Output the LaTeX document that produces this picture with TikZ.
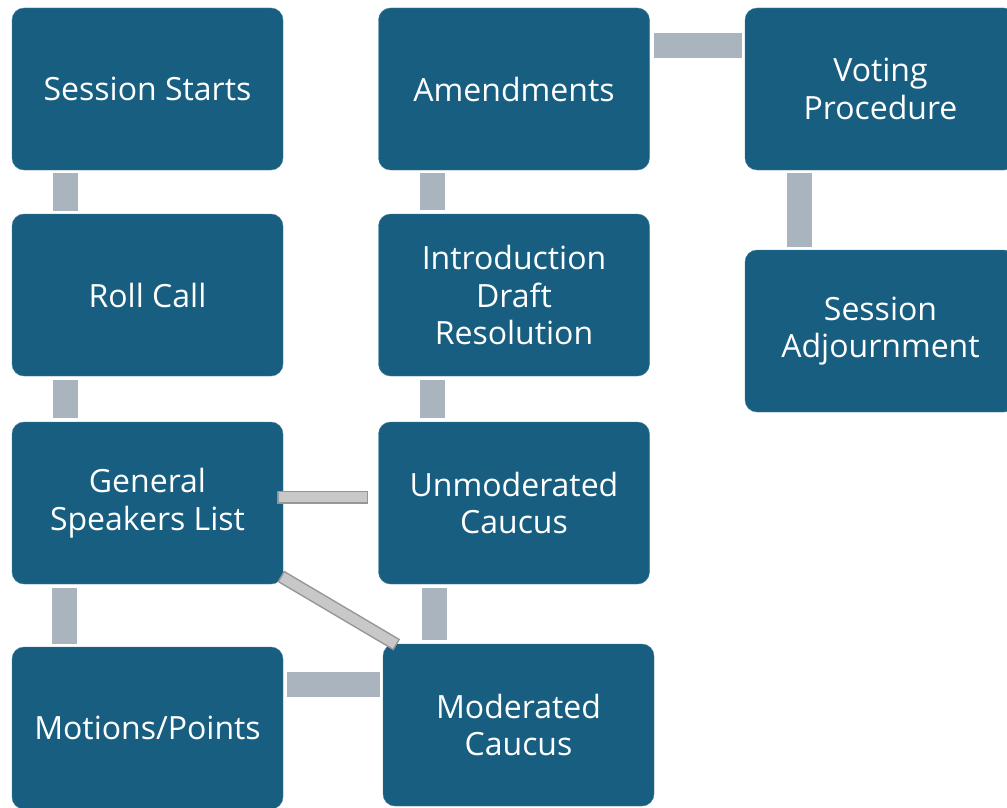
\documentclass[tikz,border=0pt]{standalone}
\usepackage{fontspec}
\setmainfont{Open Sans}
\definecolor{boxblue}{RGB}{23,94,128}
\definecolor{bargray}{RGB}{170,180,190}
\definecolor{linkfill}{RGB}{200,200,200}
\definecolor{linkedge}{RGB}{150,150,150}
\tikzset{
  stage/.style={draw=boxblue!80!white, fill=boxblue, rounded corners=12pt,
    minimum width=271pt, minimum height=162pt, text=white, align=center,
    font=\fontsize{32}{37.5}\selectfont, inner sep=0pt},
  bar/.style={draw=bargray, line width=25pt},
  linkbar/.style={draw=linkedge, line width=13pt}
}
\begin{document}
\begin{tikzpicture}[x=1pt,y=-1pt]
\useasboundingbox (0,0) rectangle (1007,808);
\clip (0,0) rectangle (1007,808);
% boxes
\node[stage] (ss) at (147.5,89) {Session Starts};
\node[stage] (rc) at (147.5,295) {Roll Call};
\node[stage] (gsl) at (147.5,503) {General\\Speakers List};
\node[stage] (mp) at (147.5,728) {Motions/Points};
\node[stage] (am) at (514,89) {Amendments};
\node[stage] (idr) at (514,295) {Introduction\\Draft\\Resolution};
\node[stage] (uc) at (514,503) {Unmoderated\\Caucus};
\node[stage] (mc) at (518.5,725) {Moderated\\Caucus};
\node[stage] (vp) at (880.5,89) {Voting\\Procedure};
\node[stage] (sa) at (880.5,331) {Session\\Adjournment};
% gray bars
\draw[bar] ([xshift=-82pt,yshift=-3pt]ss.south) -- ([xshift=-82pt,yshift=3pt]rc.north);
\draw[bar] ([xshift=-82pt,yshift=-4pt]rc.south) -- ([xshift=-82pt,yshift=4pt]gsl.north);
\draw[bar] ([xshift=-83pt,yshift=-4pt]gsl.south) -- ([xshift=-83pt,yshift=3pt]mp.north);
\draw[bar] ([xshift=4pt,yshift=44pt]mp.east) -- ([xshift=-3pt,yshift=41pt]mc.west);
\draw[bar] ([xshift=-79.5pt,yshift=-4pt]uc.south) -- ([xshift=-84pt,yshift=4pt]mc.north);
\draw[bar] ([xshift=-82pt,yshift=4pt]uc.north) -- ([xshift=-82pt,yshift=-4pt]idr.south);
\draw[bar] ([xshift=-82pt,yshift=4pt]idr.north) -- ([xshift=-82pt,yshift=-3pt]am.south);
\draw[bar] ([xshift=4pt,yshift=43pt]am.east) -- ([xshift=-3pt,yshift=43pt]vp.west);
\draw[bar] ([xshift=-81.5pt,yshift=-3pt]vp.south) -- ([xshift=-81.5pt,yshift=3pt]sa.north);
% light links
\draw[linkbar] ([xshift=-6pt,yshift=6pt]gsl.east) -- ([xshift=-10pt,yshift=6pt]uc.west);
\draw[linkbar, draw=linkfill, line width=10pt, shorten <=1.5pt, shorten >=1.5pt]
  ([xshift=-6pt,yshift=6pt]gsl.east) -- ([xshift=-10pt,yshift=6pt]uc.west);
\draw[linkbar] ([xshift=-2.5pt,yshift=8pt]gsl.south east) -- ([xshift=14pt,yshift=-1pt]mc.north west);
\draw[linkbar, draw=linkfill, line width=10pt, shorten <=1.5pt, shorten >=1.5pt]
  ([xshift=-2.5pt,yshift=8pt]gsl.south east) -- ([xshift=14pt,yshift=-1pt]mc.north west);
\end{tikzpicture}
\end{document}
